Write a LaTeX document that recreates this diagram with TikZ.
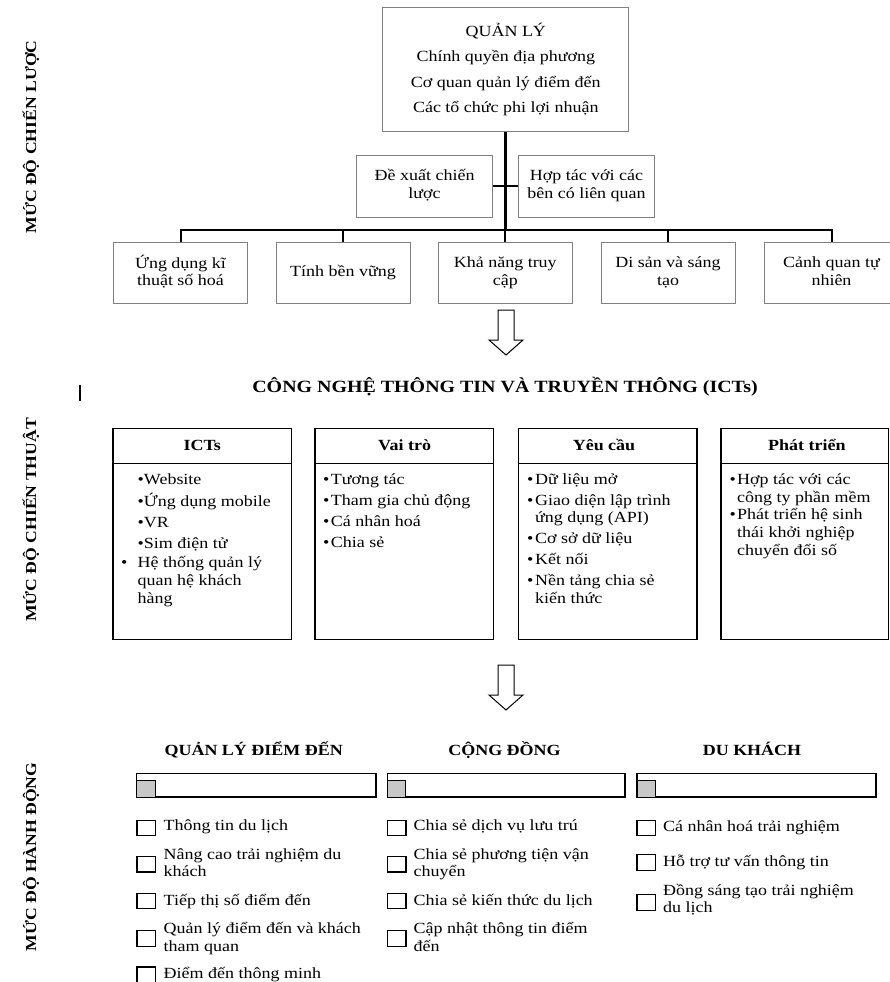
\documentclass[tikz,border=0pt]{standalone}
\usepackage{fontspec}
\setmainfont{Liberation Serif}[FakeStretch=1.16]
\usepackage{tikz}
\newcommand{\boxlines}[2][l]{\begin{tabular}[t]{@{}#1@{}}#2\end{tabular}}

\begin{document}
\begin{tikzpicture}[x=1pt,y=-1pt,
    every node/.style={font=\fontsize{15.5}{17.7}\selectfont, inner sep=0pt},
    chart/.style={draw=black!50, line width=1pt, align=center},
    pillar/.style={chart, minimum width=134pt, minimum height=60.6pt},
    ictbox/.style={draw, line width=1.6pt, minimum width=178.5pt, minimum height=211pt},
    head/.style={font=\fontsize{15.5}{17.7}\selectfont\bfseries, anchor=base},
    level/.style={font=\fontsize{15.2}{17.7}\selectfont\bfseries, rotate=90, anchor=base},
    hollow/.style={draw, line width=1pt, fill=white},
    bar/.style={draw, line width=1.5pt},
    tick/.style={draw, line width=1.1pt}]
    \useasboundingbox (0,0) rectangle (890,982);

    \node[level] (lvStrat) at (36,137) {MỨC ĐỘ CHIẾN LƯỢC};
    \node[level] (lvTact) at (36,520) {MỨC ĐỘ CHIẾN THUẬT};
    \node[level] (lvAct) at (36,857) {MỨC ĐỘ HÀNH ĐỘNG};
    \draw[line width=2pt] (80,385) -- (80,401);

    \node[chart, minimum width=246pt, minimum height=124.4pt, font=\fontsize{15.5}{25.2}\selectfont] (mgmt) at (505.8,69.5)
        {\boxlines[c]{QUẢN LÝ\\Chính quyền địa phương\\Cơ quan quản lý điểm đến\\Các tổ chức phi lợi nhuận}};
    \node[chart, minimum width=136pt, minimum height=62pt] (propose) at (424.6,186.3) {\boxlines[c]{Đề xuất chiến\\lược}};
    \node[chart, minimum width=136pt, minimum height=62pt] (partner) at (586.5,186.3) {\boxlines[c]{Hợp tác với các\\bên có liên quan}};
    \node[pillar] (digital) at (180.5,273) {\boxlines[c]{Ứng dụng kĩ\\thuật số hoá}};
    \node[pillar] (sustain) at (343,273) {\boxlines[c]{Tính bền vững}};
    \node[pillar] (access) at (505.3,273) {\boxlines[c]{Khả năng truy\\cập}};
    \node[pillar] (heritage) at (668,273) {\boxlines[c]{Di sản và sáng\\tạo}};
    \node[pillar] (nature) at (831.5,273) {\boxlines[c]{Cảnh quan tự\\nhiên}};
    \coordinate (hub) at (505.8,230);
    \draw[line width=3.2pt] (mgmt.south) -- (hub);
    \draw[line width=2pt] (propose.east) -- (partner.west);
    \draw[line width=2pt] (digital.north) |- (hub) -| (nature.north);
    \draw[line width=2pt] (sustain.north) -- (sustain.north |- hub);
    \draw[line width=2pt] (access.north) -- (access.north |- hub);
    \draw[line width=2pt] (heritage.north) -- (heritage.north |- hub);

    \draw[hollow] (498,310) -- ++(16,0) -- ++(0,30) -- ++(9,0) -- ++(-17,15) -- ++(-17,-15) -- ++(9,0) -- cycle;
    \node[font=\fontsize{17.2}{20}\selectfont\bfseries, anchor=base] (ictTitle) at (505,392.5) {CÔNG NGHỆ THÔNG TIN VÀ TRUYỀN THÔNG (ICTs)};

    \node[ictbox] (ict) at (202.3,533.8) {};
    \node[ictbox] (role) at (404.3,533.8) {};
    \node[ictbox] (need) at (607.8,533.8) {};
    \node[ictbox, minimum width=167.5pt] (grow) at (804.8,533.8) {};
    \draw[line width=1.6pt] ([yshift=-36pt]ict.north west) -- ([yshift=-36pt]ict.north east);
    \draw[line width=1.6pt] ([yshift=-36pt]role.north west) -- ([yshift=-36pt]role.north east);
    \draw[line width=1.6pt] ([yshift=-36pt]need.north west) -- ([yshift=-36pt]need.north east);
    \draw[line width=1.6pt] ([yshift=-36pt]grow.north west) -- ([yshift=-36pt]grow.north east);
    \node[head] (ictH) at (202.3,450) {ICTs};
    \node[head] (roleH) at (404.6,450) {Vai trò};
    \node[head] (needH) at (604,450) {Yêu cầu};
    \node[head] (growH) at (806.8,450) {Phát triển};
    \node[anchor=base west] (ictL) at (120.8,484.3)
        {\boxlines[p{16.7pt}@{}l]{&•Website\\[3.3pt]&•Ứng dụng mobile\\[3.3pt]&•VR\\[3.3pt]&•Sim điện tử\\[2pt]•&Hệ thống quản lý\\&quan hệ khách\\&hàng}};
    \node[anchor=base west] (roleL) at (322.8,484.3)
        {\boxlines[p{8pt}@{}l]{•&Tương tác\\[3.3pt]•&Tham gia chủ động\\[3.3pt]•&Cá nhân hoá\\[3.3pt]•&Chia sẻ}};
    \node[anchor=base west] (needL) at (527,484.3)
        {\boxlines[p{8pt}@{}l]{•&Dữ liệu mở\\[3pt]•&Giao diện lập trình\\&ứng dụng (API)\\[3.3pt]•&Cơ sở dữ liệu\\[3.3pt]•&Kết nối\\[3.3pt]•&Nền tảng chia sẻ\\&kiến thức}};
    \node[anchor=base west] (growL) at (729.4,484.3)
        {\boxlines[p{7.6pt}@{}l]{•&Hợp tác với các\\&công ty phần mềm\\•&Phát triển hệ sinh\\&thái khởi nghiệp\\&chuyển đổi số}};

    \draw[hollow] (498,665) -- ++(16,0) -- ++(0,30) -- ++(9,0) -- ++(-17,15) -- ++(-17,-15) -- ++(9,0) -- cycle;

    \node[head] (dmoH) at (253.7,755) {QUẢN LÝ ĐIỂM ĐẾN};
    \node[head] (comH) at (504.5,755) {CỘNG ĐỒNG};
    \node[head] (visH) at (752,755) {DU KHÁCH};
    \draw[bar] (136.6,773.3) rectangle (376.2,797);
    \draw[bar] (387.4,773.3) rectangle (625,797);
    \draw[bar] (637,773.3) rectangle (876,797);
    \draw[draw, line width=1pt, fill=black!22] (136.6,780.5) rectangle ++(18.5,16.5);
    \draw[draw, line width=1pt, fill=black!22] (387.4,780.5) rectangle ++(18.5,16.5);
    \draw[draw, line width=1pt, fill=black!22] (637,780.5) rectangle ++(18.5,16.5);

    \draw[tick] (137,820.3) rectangle ++(18.5,15.5);
    \draw[tick] (137,856.5) rectangle ++(18.5,15.5);
    \draw[tick] (137,893.2) rectangle ++(18.5,15.5);
    \draw[tick] (137,930.7) rectangle ++(18.5,15.5);
    \draw[tick] (137,967) rectangle ++(18.5,15.5);
    \node[anchor=base west] (dmo1) at (163.5,830.7) {Thông tin du lịch};
    \node[anchor=base west] (dmo2) at (163.5,859) {\boxlines{Nâng cao trải nghiệm du\\khách}};
    \node[anchor=base west] (dmo3) at (163.5,905) {Tiếp thị số điểm đến};
    \node[anchor=base west] (dmo4) at (163.5,933.3) {\boxlines{Quản lý điểm đến và khách\\tham quan}};
    \node[anchor=base west] (dmo5) at (163.5,978.3) {Điểm đến thông minh};

    \draw[tick] (387.5,820.3) rectangle ++(18.5,15.5);
    \draw[tick] (387.5,856.5) rectangle ++(18.5,15.5);
    \draw[tick] (387.5,893.2) rectangle ++(18.5,15.5);
    \draw[tick] (387.5,930.7) rectangle ++(18.5,15.5);
    \node[anchor=base west] (com1) at (413.5,830.7) {Chia sẻ dịch vụ lưu trú};
    \node[anchor=base west] (com2) at (413.5,859) {\boxlines{Chia sẻ phương tiện vận\\chuyển}};
    \node[anchor=base west] (com3) at (413.5,905) {Chia sẻ kiến thức du lịch};
    \node[anchor=base west] (com4) at (413.5,933.3) {\boxlines{Cập nhật thông tin điểm\\đến}};

    \draw[tick] (637,820.3) rectangle ++(18.5,15.5);
    \draw[tick] (637,854.7) rectangle ++(18.5,15.5);
    \draw[tick] (637,894.7) rectangle ++(18.5,15.5);
    \node[anchor=base west] (vis1) at (663,831) {Cá nhân hoá trải nghiệm};
    \node[anchor=base west] (vis2) at (663,866) {Hỗ trợ tư vấn thông tin};
    \node[anchor=base west] (vis3) at (663,895) {\boxlines{Đồng sáng tạo trải nghiệm\\du lịch}};
\end{tikzpicture}
\end{document}
